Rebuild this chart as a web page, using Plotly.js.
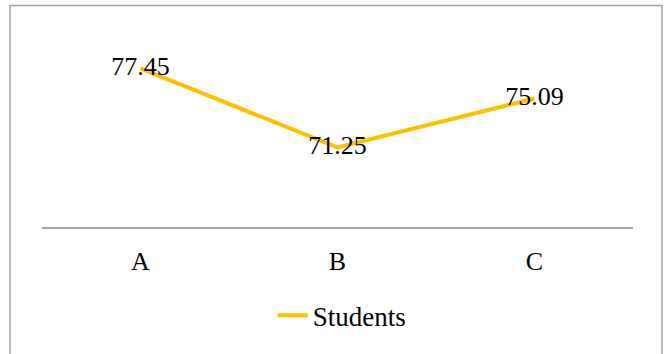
<!DOCTYPE html>
<html>
<head>
<meta charset="utf-8">
<script src="https://cdn.plot.ly/plotly-3.0.1.min.js"></script>
<style>
html,body{margin:0;padding:0;background:#fff;}
#chart{width:664px;height:354px;}
</style>
</head>
<body>
<div id="chart"></div>
<script>
const categories = ["A", "B", "C"];
const students = [77.45, 71.25, 75.09];
const labels = ["77.45", "71.25", "75.09"];
const seriesName = "Students";

const fontFam = '"Palatino Linotype", "Book Antiqua", Palatino, "Liberation Serif", serif';

const trace = {
  type: "scatter",
  mode: "lines+text",
  x: categories,
  y: students,
  text: labels,
  textposition: "middle center",
  textfont: {family: fontFam, size: 26, color: "#000"},
  line: {color: "#FFC000", width: 4},
  name: seriesName,
  cliponaxis: false,
  hoverinfo: "skip"
};

const layout = {
  width: 664,
  height: 354,
  margin: {l: 42, r: 31, t: 36, b: 127},
  paper_bgcolor: "#fff",
  plot_bgcolor: "#fff",
  font: {family: fontFam, size: 26, color: "#000"},
  showlegend: true,
  legend: {
    orientation: "h",
    x: 0.508, xanchor: "center",
    y: -0.465, yanchor: "middle",
    itemwidth: 30,
    font: {family: fontFam, size: 27, color: "#000"},
    bgcolor: "rgba(0,0,0,0)"
  },
  xaxis: {
    type: "category",
    range: [-0.5, 2.5],
    showline: true,
    linecolor: "#a6a6a6",
    linewidth: 1.5,
    showgrid: false,
    zeroline: false,
    ticks: "",
    ticklabelstandoff: 10,
    tickfont: {family: fontFam, size: 26, color: "#000"},
    fixedrange: true
  },
  yaxis: {
    range: [65, 80],
    visible: false,
    fixedrange: true
  },
  shapes: [{
    type: "rect",
    xref: "paper", yref: "paper",
    x0: (10 - 42) / 591, x1: (662 - 42) / 591,
    y0: (227 - 370) / 191, y1: (227 - 5.5) / 191,
    line: {color: "#a0a0a0", width: 1.5},
    fillcolor: "rgba(0,0,0,0)",
    layer: "below"
  }]
};

Plotly.newPlot("chart", [trace], layout, {displayModeBar: false, staticPlot: true});
</script>
</body>
</html>
